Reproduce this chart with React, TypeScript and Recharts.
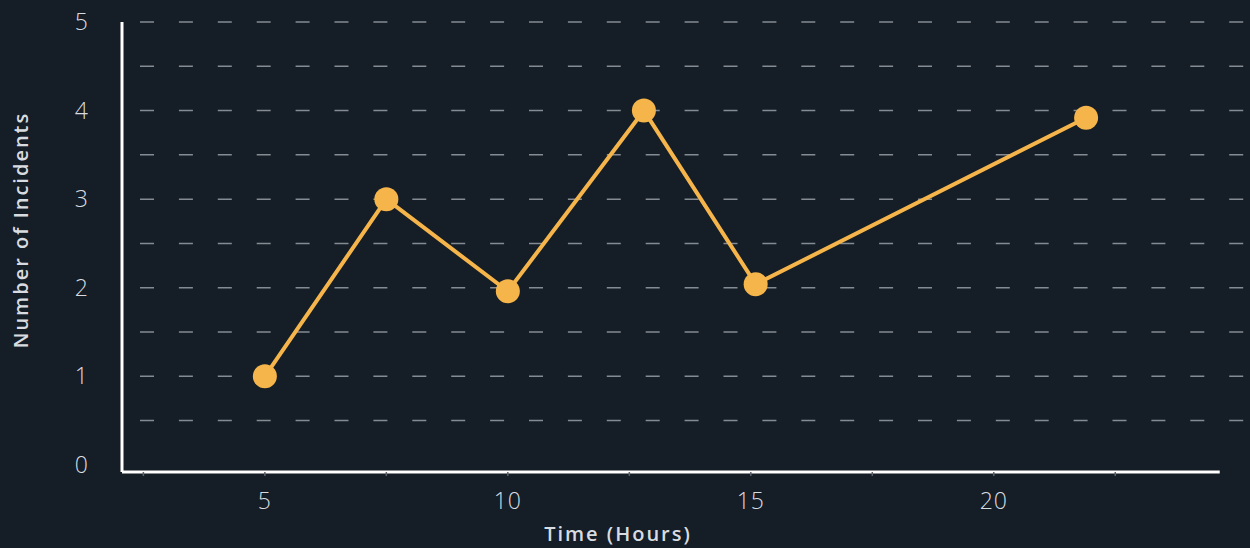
import React from "react";
import {
  LineChart,
  Line,
  XAxis,
  YAxis,
  CartesianGrid,
  ReferenceLine,
} from "recharts";

// values
const hours = [5, 7.5, 10, 12.8, 15.1, 21.9];
const incidents = [1, 3, 1.96, 4, 2.04, 3.92];

const xTicks = [2.5, 5, 7.5, 10, 12.5, 15, 17.5, 20, 22.5];
const yTicks = [0, 1, 2, 3, 4, 5];
const gridLevels = [0.5, 1, 1.5, 2, 2.5, 3, 3.5, 4, 4.5, 5];

const X_MIN = 2.06;
const X_MAX = 25.17;
const X_AXIS_END = 24.65;
const Y_MIN = -0.08;
const Y_MAX = 5;

const BG = "#151d26";
const TEXT = "#d8dce0";
const ORANGE = "#f6b54a";
const FONT = "'Open Sans', 'Noto Sans', sans-serif";

const data = hours.map((h, i) => ({ hour: h, count: incidents[i] }));

const titleStyle = {
  fontFamily: FONT,
  fontSize: 20,
  fontWeight: 600,
  letterSpacing: 2,
};

const tickStyle = {
  fill: TEXT,
  fontSize: 23,
  fontFamily: FONT,
  fontWeight: 300,
  letterSpacing: 1,
};

const renderYLabel = ({ viewBox }: any) => {
  const x = viewBox.x + 20;
  const y = viewBox.y + viewBox.height / 2 - 17;
  return (
    <text
      x={x}
      y={y}
      transform={`rotate(-90, ${x}, ${y})`}
      textAnchor="middle"
      dominantBaseline="central"
      fill={TEXT}
      style={titleStyle}
    >
      Number of Incidents
    </text>
  );
};

const renderXLabel = ({ viewBox }: any) => (
  <text
    x={viewBox.x + 496}
    y={viewBox.y + 61}
    textAnchor="middle"
    dominantBaseline="central"
    fill={TEXT}
    style={titleStyle}
  >
    Time (Hours)
  </text>
);

export default function App() {
  return (
    <div
      style={{
        position: "fixed",
        left: 0,
        top: 0,
        width: 1250,
        height: 548,
        background: BG,
      }}
    >
      <LineChart
        width={1250}
        height={548}
        data={data}
        margin={{ top: 22, right: 5, bottom: 0, left: 0 }}
      >
        <CartesianGrid
          vertical={false}
          horizontalValues={gridLevels}
          stroke="#858b92"
          strokeWidth={1.5}
          strokeDasharray="0 18 14 6.9"
        />
        <XAxis
          dataKey="hour"
          type="number"
          domain={[X_MIN, X_MAX]}
          ticks={xTicks}
          interval={0}
          allowDataOverflow
          height={76}
          axisLine={false}
          tickLine={{ stroke: "#5c636b", strokeWidth: 1.5 }}
          tickSize={4}
          tickMargin={17}
          tickFormatter={(v: number) => (v % 5 === 0 ? String(v) : "")}
          tick={tickStyle}
          label={{ content: renderXLabel }}
        />
        <YAxis
          type="number"
          domain={[Y_MIN, Y_MAX]}
          ticks={yTicks}
          interval={0}
          allowDataOverflow
          width={122}
          axisLine={{ stroke: "#ffffff", strokeWidth: 3 }}
          tickLine={false}
          tickSize={0}
          tickMargin={33}
          tick={tickStyle}
          label={{ content: renderYLabel }}
        />
        <ReferenceLine
          segment={[
            { x: X_MIN, y: Y_MIN },
            { x: X_AXIS_END, y: Y_MIN },
          ]}
          stroke="#ffffff"
          strokeWidth={3}
          ifOverflow="visible"
        />
        <Line
          dataKey="count"
          type="linear"
          stroke={ORANGE}
          strokeWidth={4}
          dot={{ r: 12, fill: ORANGE, stroke: "none" }}
          activeDot={false}
          isAnimationActive={false}
        />
      </LineChart>
    </div>
  );
}
